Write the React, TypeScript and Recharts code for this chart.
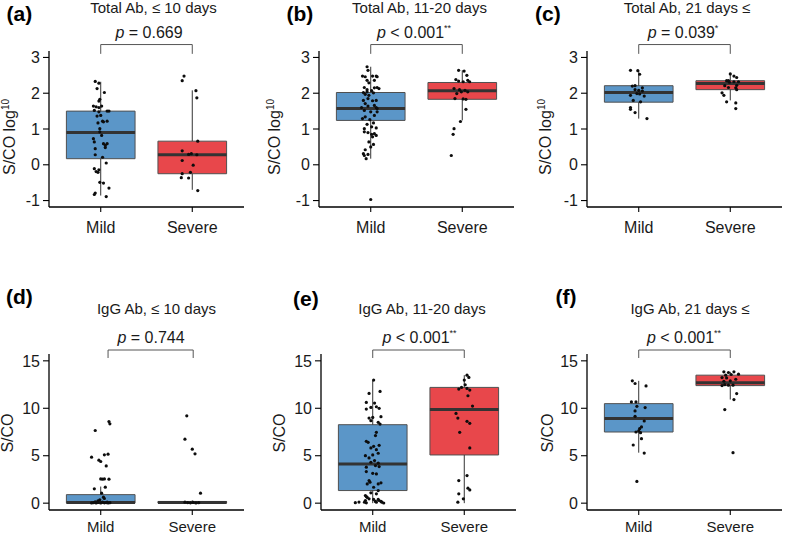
import React from 'react';
import { ComposedChart, XAxis, YAxis, Scatter, ReferenceArea, ReferenceLine } from 'recharts';

// [jitter offset from group centre, value]
type Pt = [number, number];
// [lower whisker, q1, median, q3, upper whisker]
type Box = [number, number, number, number, number];

const GROUPS = ['Mild', 'Severe'];
const TOTAL_TICKS = [-1, 0, 1, 2, 3];
const IGG_TICKS = [0, 5, 10, 15];
const TOTAL_DOMAIN = [-1.18, 3.18];
const IGG_DOMAIN = [-0.72, 15.72];

const LETTERS = ['(a)', '(b)', '(c)', '(d)', '(e)', '(f)'];
const TITLES = [
  'Total Ab, ≤ 10 days',
  'Total Ab, 11-20 days',
  'Total Ab, 21 days ≤',
  'IgG Ab, ≤ 10 days',
  'IgG Ab, 11-20 days',
  'IgG Ab, 21 days ≤',
];
const P_TEXT = ['= 0.669', '< 0.001', '= 0.039', '= 0.744', '< 0.001', '< 0.001'];
const P_STARS = ['', '**', '*', '', '**', '**'];

// box statistics
const A_MILD_BOX: Box = [-0.86, 0.17, 0.9, 1.5, 2.32];
const A_SEVERE_BOX: Box = [-0.7, -0.25, 0.28, 0.66, 2.08];
const B_MILD_BOX: Box = [0.17, 1.24, 1.57, 2.02, 2.74];
const B_SEVERE_BOX: Box = [1.24, 1.83, 2.07, 2.3, 2.64];
const C_MILD_BOX: Box = [1.29, 1.75, 2.02, 2.21, 2.63];
const C_SEVERE_BOX: Box = [1.8, 2.1, 2.27, 2.35, 2.55];
const D_MILD_BOX: Box = [0, 0.02, 0.08, 0.9, 1.75];
const D_SEVERE_BOX: Box = [0, 0.02, 0.06, 0.18, 0.3];
const E_MILD_BOX: Box = [0, 1.33, 4.14, 8.27, 12.97];
const E_SEVERE_BOX: Box = [0, 5.08, 9.88, 12.2, 13.49];
const F_MILD_BOX: Box = [5.32, 7.5, 8.91, 10.49, 12.89];
const F_SEVERE_BOX: Box = [10.92, 12.39, 12.68, 13.49, 13.84];

// jittered points
const A_MILD: Pt[] = [
  [-0.06, 2.33], [-0.02, 2.28], [-0.04, 2.13], [0.04, 2.02], [-0.01, 1.83], [-0.02, 1.78],
  [-0.08, 1.64], [-0.05, 1.62], [-0.02, 1.6], [0.01, 1.64], [-0.07, 1.52], [-0.02, 1.48],
  [0.07, 1.5], [0.09, 1.5], [-0.04, 1.36], [0, 1.38], [0.02, 1.22], [-0.03, 1.17],
  [0.03, 1.2], [0.07, 1.22], [-0.01, 1.01], [-0.01, 0.92], [0.01, 0.82], [-0.08, 0.73],
  [-0.07, 0.64], [0.03, 0.59], [0.07, 0.59], [0.05, 0.54], [-0.06, 0.45], [0.05, 0.48],
  [-0.06, 0.28], [0.02, 0.21], [0.06, 0.05], [-0.07, -0.11], [-0.05, -0.19], [-0.03, -0.21],
  [-0.02, -0.14], [-0.01, -0.49], [0.03, -0.51], [0.09, -0.65], [-0.06, -0.79], [-0.07, -0.83],
  [0.06, -0.89],
];
const A_SEVERE: Pt[] = [
  [-0.09, 2.48], [-0.11, 2.35], [0.04, 2.07], [0.05, 1.87], [0.06, 0.66], [-0.11, 0.39],
  [-0.04, 0.29], [-0.01, 0.31], [0.05, 0.28], [-0.11, 0.12], [0.01, -0.01], [-0.02, -0.21],
  [-0.11, -0.25], [-0.12, -0.36], [-0.04, -0.37], [0.06, -0.72],
];
const B_MILD: Pt[] = [
  [-0.04, 2.74], [-0.03, 2.64], [-0.09, 2.48], [-0.06, 2.46], [0.02, 2.48], [0.06, 2.48],
  [0.07, 2.46], [-0.04, 2.36], [0.04, 2.36], [-0.02, 2.29], [-0.07, 2.16], [0.04, 2.15],
  [0.07, 2.16], [0.09, 2.13], [-0.04, 2.1], [0.01, 2.07], [-0.04, 2.04], [-0.08, 2.02],
  [-0.06, 1.97], [-0.02, 1.94], [0.03, 2.01], [-0.03, 1.85], [-0.08, 1.8], [0.02, 1.79],
  [0.06, 1.8], [-0.06, 1.71], [-0.03, 1.64], [0.04, 1.66], [0.06, 1.6], [0.07, 1.57],
  [-0.1, 1.6], [-0.07, 1.52], [0, 1.48], [0.07, 1.48], [0.04, 1.38], [-0.06, 1.34],
  [-0.09, 1.29], [-0.01, 1.26], [0.03, 1.17], [-0.04, 1.13], [0.01, 1.06], [-0.07, 1.01],
  [0.06, 1.03], [-0.07, 0.92], [-0.03, 0.9], [0.04, 0.87], [0.06, 0.82], [0.01, 0.85],
  [0.02, 0.78], [-0.02, 0.64], [0.03, 0.57], [-0.06, 0.42], [0, 0.5], [-0.08, 0.31],
  [-0.07, 0.26], [-0.03, 0.29], [-0.05, 0.17], [0, -0.97],
];
const B_SEVERE: Pt[] = [
  [-0.04, 2.64], [0.02, 2.62], [0.05, 2.5], [-0.07, 2.38], [0.06, 2.36], [-0.04, 2.34],
  [0.01, 2.32], [0.08, 2.32], [-0.09, 2.13], [-0.03, 2.1], [0.03, 2.08], [-0.01, 2.04],
  [0.06, 2.04], [-0.06, 1.99], [0.01, 1.84], [0.04, 1.83], [-0.08, 1.85], [0.04, 1.55],
  [-0.02, 1.21], [-0.09, 1.01], [-0.1, 0.85], [-0.12, 0.26],
];
const C_MILD: Pt[] = [
  [-0.09, 2.64], [-0.01, 2.63], [0.01, 2.53], [-0.07, 2.2], [-0.04, 2.21], [0.04, 2.15],
  [-0.04, 2.1], [0, 2.08], [0.04, 2.06], [-0.02, 1.99], [0.01, 1.98], [-0.09, 1.94],
  [0.06, 1.92], [-0.06, 1.8], [0.02, 1.76], [-0.09, 1.6], [-0.09, 1.55], [-0.04, 1.46],
  [0.09, 1.29],
];
const C_SEVERE: Pt[] = [
  [0, 2.54], [0.04, 2.48], [0.07, 2.44], [-0.04, 2.35], [-0.02, 2.35], [-0.01, 2.31],
  [0.04, 2.32], [0.09, 2.32], [0.07, 2.22], [-0.06, 2.21], [-0.02, 2.16], [0.06, 2.15],
  [0.07, 2.1], [-0.09, 2.01], [-0.07, 1.94], [-0.04, 1.76], [0.06, 1.73], [0.06, 1.57],
];
const D_MILD: Pt[] = [
  [-0.06, 7.66], [0.09, 8.6], [0.1, 8.36], [-0.1, 4.85], [-0.02, 4.53], [0, 4.39],
  [0.04, 5.09], [0.08, 5.16], [0.06, 3.93], [0, 2.56], [0.02, 2.53], [0.04, 2.56],
  [0.09, 2.53], [-0.07, 1.51], [0.05, 1.69], [0.01, 1.05], [0.03, 0.63], [0.04, 0.49],
  [-0.01, 0.35], [-0.03, 0.25], [-0.08, 0.05], [-0.05, 0.02], [-0.03, 0.08], [0, 0.03],
  [0.02, 0.1], [0.04, 0.04], [0.06, 0.06], [0.08, 0.02], [0.1, 0.05], [-0.1, 0.03],
  [0.07, 0.12], [-0.06, 0.15],
];
const D_SEVERE: Pt[] = [
  [-0.06, 9.2], [-0.08, 6.74], [0, 5.69], [0.03, 5.2], [0.09, 1.05], [-0.05, 0.06],
  [-0.02, 0.04], [0.01, 0.08], [0.04, 0.03], [0.07, 0.05], [-0.08, 0.1],
];
const E_MILD: Pt[] = [
  [0.01, 12.97], [0.08, 11.78], [-0.04, 11.57], [-0.07, 10.62], [0.02, 10.55], [-0.07, 9.92],
  [-0.02, 10.09], [0.04, 10.16], [0.07, 9.99], [-0.04, 8.97], [0, 9.04], [0.09, 9.11],
  [0.06, 8.52], [-0.02, 8.69], [0.08, 8.34], [0.04, 7.47], [0.03, 7.12], [-0.07, 6.52],
  [-0.05, 6.41], [0.01, 5.99], [0.07, 6.1], [-0.02, 5.82], [0.04, 5.64], [-0.08, 5.01],
  [0, 5.08], [0.06, 5.26], [-0.04, 4.77], [0.02, 4.49], [-0.02, 4.31], [0.06, 4.21],
  [-0.07, 3.79], [0.03, 3.96], [0.07, 3.86], [-0.07, 3.33], [0, 3.15], [0.04, 3.08],
  [-0.04, 2.38], [-0.03, 2.21], [-0.06, 2.03], [0.06, 2.03], [0.09, 2.14], [0.01, 1.68],
  [0.06, 1.33], [-0.02, 1.09], [0.04, 0.98], [-0.08, 0.81], [-0.07, 0.7], [-0.06, 0.6],
  [-0.04, 0.46], [-0.08, 0.28], [0.01, 0.39], [0.06, 0.39], [0.07, 0.28], [0.09, 0.18],
  [-0.09, 0.1], [-0.07, 0.04], [0.03, 0.18], [0.04, 0.1], [0.1, 0.1], [0.12, 0.02],
  [-0.19, 0.05], [-0.15, 0.12],
];
const E_SEVERE: Pt[] = [
  [0.03, 13.49], [0.05, 13.25], [0, 12.97], [0.01, 12.48], [-0.03, 12.2], [0.03, 12.09],
  [-0.06, 12.02], [0.06, 11.92], [0.04, 11.32], [0.09, 10.23], [-0.09, 9.46], [-0.07, 8.97],
  [0.03, 8.62], [0.06, 8.41], [-0.05, 7.47], [0.06, 5.82], [0.03, 2.91], [-0.06, 2.38],
  [0.04, 1.58], [0.06, 1.4], [-0.06, 0.98], [-0.01, 0.46], [-0.07, 0.1],
];
const F_MILD: Pt[] = [
  [-0.07, 12.89], [-0.04, 12.61], [0.08, 12.36], [-0.08, 10.67], [-0.03, 10.67], [-0.02, 10.21],
  [0.07, 10.07], [-0.04, 9.72], [-0.04, 9.15], [0.06, 8.66], [0.03, 8.03], [0.01, 7.85],
  [0, 7.61], [-0.03, 7.5], [0.02, 7.43], [0.03, 6.8], [-0.06, 6.13], [0.06, 5.28],
  [-0.02, 2.29],
];
const F_SEVERE: Pt[] = [
  [-0.07, 13.84], [-0.02, 13.77], [0.04, 13.84], [-0.05, 13.49], [0.01, 13.56], [0.09, 13.59],
  [-0.09, 13.24], [-0.04, 13.2], [0.06, 13.06], [-0.07, 12.85], [0, 12.89], [-0.06, 12.5],
  [-0.09, 12.39], [-0.02, 12.43], [0.03, 12.43], [0.07, 11.55], [0.04, 10.92], [-0.06, 9.86],
  [0.03, 5.32],
];

const MILD_POINTS = [A_MILD, B_MILD, C_MILD, D_MILD, E_MILD, F_MILD];
const SEVERE_POINTS = [A_SEVERE, B_SEVERE, C_SEVERE, D_SEVERE, E_SEVERE, F_SEVERE];
const MILD_BOXES = [A_MILD_BOX, B_MILD_BOX, C_MILD_BOX, D_MILD_BOX, E_MILD_BOX, F_MILD_BOX];
const SEVERE_BOXES = [A_SEVERE_BOX, B_SEVERE_BOX, C_SEVERE_BOX, D_SEVERE_BOX, E_SEVERE_BOX, F_SEVERE_BOX];

const BLUE = '#5b96c8';
const RED = '#e8474b';
const BOX_EDGE = '#505050';
const INK = '#1a1a1a';
const FONT = '"Liberation Sans", Arial, Helvetica, sans-serif';

// where each panel sits on the page
const LAYOUT = [
  { left: 0, top: 0, w: 262, ml: 9, mr: 18, yTitleX: 14.5, letterX: 6.5, titleX: 153.5, pX: 149 },
  { left: 262, top: 0, w: 262, ml: 17, mr: 10, yTitleX: 280, letterX: 286.5, titleX: 419.5, pX: 414 },
  { left: 524, top: 0, w: 263, ml: 23, mr: 5, yTitleX: 550.5, letterX: 535, titleX: 687, pX: 683 },
  { left: 0, top: 280, w: 262, ml: 9, mr: 18, yTitleX: 13, letterX: 6, titleX: 156.5, pX: 151 },
  { left: 262, top: 280, w: 262, ml: 19, mr: 8, yTitleX: 285, letterX: 293, titleX: 422, pX: 419.5 },
  { left: 524, top: 280, w: 263, ml: 23, mr: 5, yTitleX: 553, letterX: 555.5, titleX: 690, pX: 684 },
];

const Dot = (props: any) => <circle cx={props.cx} cy={props.cy} r={1.6} fill="#0d0d0d" />;

const toData = (pts: Pt[], centre: number) => pts.map(([j, v]) => ({ x: centre + j, y: v }));

function boxParts(box: Box, centre: number, fill: string, key: string) {
  const [lo, q1, med, q3, hi] = box;
  return [
    <ReferenceLine key={key + 'wl'} segment={[{ x: centre, y: lo }, { x: centre, y: q1 }]} stroke="#333" strokeWidth={1} ifOverflow="visible" />,
    <ReferenceLine key={key + 'wh'} segment={[{ x: centre, y: q3 }, { x: centre, y: hi }]} stroke="#333" strokeWidth={1} ifOverflow="visible" />,
    <ReferenceArea key={key + 'b'} x1={centre - 0.375} x2={centre + 0.375} y1={q1} y2={q3} fill={fill} fillOpacity={1} stroke={BOX_EDGE} strokeWidth={1} ifOverflow="visible" />,
    <ReferenceLine key={key + 'm'} segment={[{ x: centre - 0.375, y: med }, { x: centre + 0.375, y: med }]} stroke="#333" strokeWidth={3} ifOverflow="visible" />,
  ];
}

const Panel = ({ i }: { i: number }) => {
  const L = LAYOUT[i];
  const top = i < 3;
  const domain = top ? TOTAL_DOMAIN : IGG_DOMAIN;
  const ticks = top ? TOTAL_TICKS : IGG_TICKS;
  const bracketY = top ? [3.36, 3.1] : [16.14, 15.3];
  const bx = i === 3 ? [1.08, 2.01] : [1, 2];
  return (
    <div style={{ position: 'absolute', left: L.left, top: L.top }}>
      <ComposedChart
        width={L.w}
        height={top ? 240 : 255}
        margin={{ top: top ? 51 : 74, right: L.mr, bottom: 3, left: L.ml }}
      >
        <XAxis
          type="number"
          dataKey="x"
          domain={[0.435, 2.565]}
          allowDataOverflow
          ticks={[1, 2]}
          tickFormatter={(v: number) => GROUPS[v - 1]}
          height={top ? 30 : 22}
          tickSize={5}
          tickMargin={top ? 10 : 6}
          axisLine={{ stroke: '#000', strokeWidth: 1.3 }}
          tickLine={{ stroke: '#000', strokeWidth: 1.1 }}
          tick={{ fontSize: top ? 16 : 15, fill: INK }}
        />
        <YAxis
          type="number"
          dataKey="y"
          domain={domain}
          allowDataOverflow
          ticks={ticks}
          interval={0}
          width={40}
          tickSize={6}
          tickMargin={3}
          axisLine={{ stroke: '#000', strokeWidth: 1.3 }}
          tickLine={{ stroke: '#000', strokeWidth: 1.1 }}
          tick={{ fontSize: 16, fill: INK }}
        />
        {boxParts(MILD_BOXES[i], 1, BLUE, 'm')}
        {boxParts(SEVERE_BOXES[i], 2, RED, 's')}
        <ReferenceLine segment={[{ x: bx[0], y: bracketY[0] }, { x: bx[1], y: bracketY[0] }]} stroke="#555" strokeWidth={1} ifOverflow="visible" />
        <ReferenceLine segment={[{ x: bx[0], y: bracketY[0] }, { x: bx[0], y: bracketY[1] }]} stroke="#555" strokeWidth={1} ifOverflow="visible" />
        <ReferenceLine segment={[{ x: bx[1], y: bracketY[0] }, { x: bx[1], y: bracketY[1] }]} stroke="#555" strokeWidth={1} ifOverflow="visible" />
        <Scatter data={toData(MILD_POINTS[i], 1)} shape={Dot} isAnimationActive={false} />
        <Scatter data={toData(SEVERE_POINTS[i], 2)} shape={Dot} isAnimationActive={false} />
      </ComposedChart>
    </div>
  );
};

const Labels = () => (
  <svg width={787} height={535} style={{ position: 'absolute', left: 0, top: 0, pointerEvents: 'none' }}>
    {LAYOUT.map((L, i) => {
      const top = i < 3;
      const letterY = top ? 21 : i === 4 ? 306 : 304;
      const titleY = top ? 12.5 : 313.5;
      const pY = top ? 38.3 : 343;
      const yTitleY = top ? 137 : 433;
      return (
        <g key={i} fill={INK} style={{ fontFamily: FONT }}>
          <text x={L.letterX} y={letterY} fontSize={21} fontWeight="bold" fill="#000">{LETTERS[i]}</text>
          <text x={L.titleX} y={titleY} fontSize={15} textAnchor="middle">{TITLES[i]}</text>
          <text x={L.pX} y={pY} fontSize={16} textAnchor="middle">
            <tspan fontStyle="italic">p</tspan>
            <tspan>{' ' + P_TEXT[i]}</tspan>
            {P_STARS[i] ? <tspan dy={-7} fontSize={9}>{P_STARS[i]}</tspan> : null}
          </text>
          <text transform={`translate(${L.yTitleX}, ${yTitleY}) rotate(-90)`} fontSize={16} textAnchor="middle">
            {top ? (
              <>
                <tspan>S/CO log</tspan>
                <tspan dy={-6} fontSize={10}>10</tspan>
              </>
            ) : (
              'S/CO'
            )}
          </text>
        </g>
      );
    })}
  </svg>
);

export default function App() {
  return (
    <div style={{ position: 'relative', width: 787, height: 535, background: '#fff', fontFamily: FONT, overflow: 'hidden' }}>
      <style>{'body{margin:0;}'}</style>
      {LAYOUT.map((_, i) => (
        <Panel key={i} i={i} />
      ))}
      <Labels />
    </div>
  );
}
